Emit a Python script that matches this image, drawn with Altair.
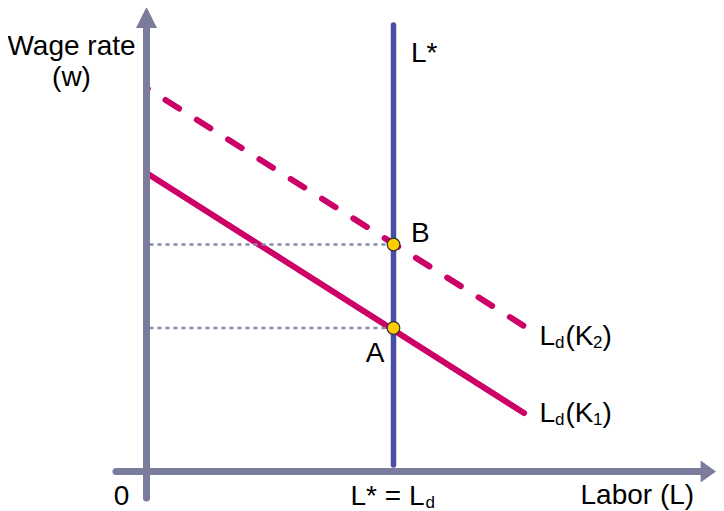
import altair as alt
import pandas as pd

# ---------------- data ----------------
# demand for labour with capital K1 (solid) and K2 (dashed): (L, w) end points
K1_L = [0.0, 37.75]
K1_W = [29.85, 5.85]
K2_L = [0.0, 37.75]
K2_W = [38.35, 14.55]

# fixed labour supply L*
L_STAR = 24.7
L_STAR_W = [0.65, 44.65]

# equilibrium points
EQ_NAMES = ["A", "B"]
EQ_L = [24.7, 24.7]
EQ_W = [14.35, 22.7]

# axis arrows extents
Y_AXIS_W = [-2.65, 44.35]
Y_ARROW_W = 45.4
X_AXIS_L = [-3.05, 55.8]
X_ARROW_L = 56.18

XD = [-13.85, 56.95]
YD = [-3.95, 46.35]
W, H = 708, 503
FONT = "Liberation Sans"
FS = 28
SUB = 17

AXIS_C = "#7b7b9c"
LSTAR_C = "#4a4ea2"
MAG = "#cc0066"
DOT_C = "#8888a8"

xs = alt.Scale(domain=XD, nice=False, zero=False)
ys = alt.Scale(domain=YD, nice=False, zero=False)


def X(f="x"):
    return alt.X(f"{f}:Q", scale=xs, axis=None)


def Y(f="y"):
    return alt.Y(f"{f}:Q", scale=ys, axis=None)


layers = []

# demand curves
k1 = pd.DataFrame({"x": K1_L, "y": K1_W})
k2 = pd.DataFrame({"x": K2_L, "y": K2_W})
layers.append(alt.Chart(k1).mark_line(color=MAG, strokeWidth=6, strokeCap="round")
              .encode(x=X(), y=Y()))
layers.append(alt.Chart(k2).mark_line(color=MAG, strokeWidth=6, strokeCap="round",
                                      strokeDash=[16, 21], strokeDashOffset=14.5)
              .encode(x=X(), y=Y()))

# dotted guides from the y axis to the equilibrium points
eq = pd.DataFrame({"name": EQ_NAMES, "x": EQ_L, "y": EQ_W})
eq["x0"] = 0.3
layers.append(alt.Chart(eq).mark_rule(color=DOT_C, strokeWidth=2.5, strokeDash=[4, 4])
              .encode(x=X("x0"), x2="x:Q", y=Y()))

# L* vertical
ls = pd.DataFrame({"x": [L_STAR, L_STAR], "y": L_STAR_W})
layers.append(alt.Chart(ls).mark_line(color=LSTAR_C, strokeWidth=5.5, strokeCap="round")
              .encode(x=X(), y=Y()))

# axes
ya = pd.DataFrame({"x": [0.0, 0.0], "y": Y_AXIS_W})
xa = pd.DataFrame({"x": X_AXIS_L, "y": [0.0, 0.0]})
layers.append(alt.Chart(ya).mark_line(color=AXIS_C, strokeWidth=7, strokeCap="round")
              .encode(x=X(), y=Y()))
layers.append(alt.Chart(xa).mark_line(color=AXIS_C, strokeWidth=7, strokeCap="round")
              .encode(x=X(), y=Y()))
layers.append(alt.Chart(pd.DataFrame({"x": [0.0], "y": [Y_ARROW_W]}))
              .mark_point(shape="M0,-1L1,1L-1,1Z", filled=True, size=441, color=AXIS_C, opacity=1)
              .encode(x=X(), y=Y()))
layers.append(alt.Chart(pd.DataFrame({"x": [X_ARROW_L], "y": [0.0]}))
              .mark_point(shape="M-0.7,-1L0.7,0L-0.7,1Z", filled=True, size=484, color=AXIS_C, opacity=1)
              .encode(x=X(), y=Y()))

# equilibrium points
layers.append(alt.Chart(eq).mark_circle(size=160, color="#ffcc00", opacity=1,
                                        stroke="#333333", strokeWidth=1.2)
              .encode(x=X(), y=Y()))


def text(xv, yv, s, align="left", dx=0, dy=0, size=FS):
    d = pd.DataFrame({"x": [xv], "y": [yv], "t": [s]})
    return alt.Chart(d).mark_text(align=align, baseline="alphabetic", dx=dx, dy=dy,
                                  fontSize=size, font=FONT, color="#000000").encode(
        x=X(), y=Y(), text="t:N")


# labels
layers.append(text(-7.5, 41.65, "Wage rate", align="center"))
layers.append(text(-7.5, 38.55, "(w)", align="center"))
layers.append(text(26.45, 40.95, "L*"))
layers.append(text(26.45, 22.95, EQ_NAMES[1]))
layers.append(text(22.85, 10.95, EQ_NAMES[0], align="center"))
layers.append(text(-2.5, -3.35, "0", align="center"))
layers.append(text(20.4, -3.35, "L* = L"))
layers.append(text(20.4, -3.35, "d", dx=75, dy=3, size=SUB))
layers.append(text(43.4, -3.25, "Labor (L)"))

for yv, sub in [(12.65, "2"), (4.95, "1")]:
    layers.append(text(39.3, yv, "L"))
    layers.append(text(39.3, yv, "d", dx=15.5, dy=3, size=SUB))
    layers.append(text(39.3, yv, "(K", dx=26))
    layers.append(text(39.3, yv, sub, dx=53.5, dy=3, size=SUB))
    layers.append(text(39.3, yv, ")", dx=63))

chart = alt.layer(*layers).properties(
    width=W, height=H, padding=0,
    autosize=alt.AutoSizeParams(type="none"),
    background="white",
).configure_view(stroke=None)

chart.save("out.html", embed_options={"renderer": "svg", "actions": False})
